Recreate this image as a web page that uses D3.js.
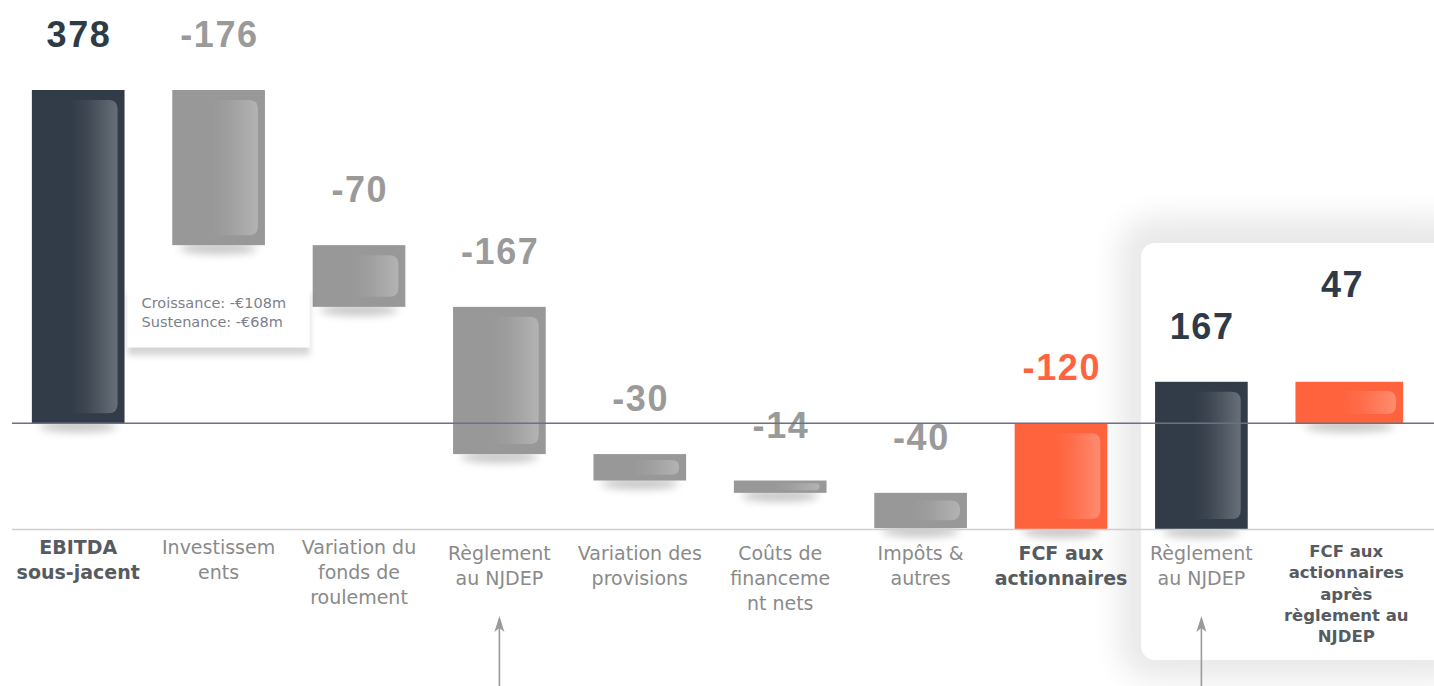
<!DOCTYPE html>
<html>
<head>
<meta charset="utf-8">
<script src="https://cdn.jsdelivr.net/npm/d3@7/dist/d3.min.js"></script>
<style>
	html, body { margin: 0; padding: 0; background: #fff; overflow: hidden; }
	svg { display: block; }
</style>
</head>
<body>
<svg id="chart" width="1434" height="686"></svg>
<script>
'use strict';

// categories (one entry per column, already split into the lines shown)
var categories = [
	['EBITDA', 'sous-jacent'],
	['Investissem', 'ents'],
	['Variation du', 'fonds de', 'roulement'],
	['Règlement', 'au NJDEP'],
	['Variation des', 'provisions'],
	['Coûts de', 'financeme', 'nt nets'],
	['Impôts &', 'autres'],
	['FCF aux', 'actionnaires'],
	['Règlement', 'au NJDEP'],
	['FCF aux', 'actionnaires', 'après', 'règlement au', 'NJDEP']
];
// amounts in €m; "total" columns start from zero, "delta" columns float
var values = [378, -176, -70, -167, -30, -14, -40, -120, 167, 47];
var kinds = ['total', 'delta', 'delta', 'delta', 'delta', 'delta', 'delta', 'total', 'delta', 'total'];
var groups = ['base', 'flow', 'flow', 'flow', 'flow', 'flow', 'flow', 'result', 'base', 'result'];
var labels = ['378', '-176', '-70', '-167', '-30', '-14', '-40', '-120', '167', '47'];
var annotationLines = ['Croissance: -€108m', 'Sustenance: -€68m'];
var arrowUnder = [3, 8];

(function() {
	var W = 1434, H = 686;
	var last = categories.length - 1;
	var colors = {base: '#323c48', flow: '#989898', result: '#ff633d'};
	var labelColors = {base: '#2f3a47', flow: '#9a9a9a', result: '#ff6340'};
	var catFont = '"DejaVu Sans", Verdana, sans-serif';

	// running sums for the waterfall
	var rows = [];
	var run = 0;
	values.forEach(function(v, i) {
		var start = kinds[i] === 'total' ? 0 : run;
		var end = start + v;
		run = end;
		rows.push({i: i, start: start, end: end, group: groups[i], lines: categories[i], label: labels[i], bold: kinds[i] === 'total'});
	});

	var x = d3.scaleBand()
		.domain(d3.range(categories.length))
		.range([8, 1412])
		.paddingInner(0.34)
		.paddingOuter(0.17)
		;
	var y = d3.scaleLinear()
		.domain([d3.min(rows, function(d) { return Math.min(d.start, d.end); }), d3.max(rows, function(d) { return Math.max(d.start, d.end); })])
		.range([529, 90])
		;

	var svg = d3.select('#chart');
	var defs = svg.append('defs');

	defs.append('filter')
		.attr('id', 'blur')
		.attr('x', '-50%').attr('y', '-200%').attr('width', '200%').attr('height', '500%')
		.append('feGaussianBlur')
			.attr('stdDeviation', 4)
		;
	defs.append('filter')
		.attr('id', 'halo')
		.attr('x', '-30%').attr('y', '-30%').attr('width', '160%').attr('height', '160%')
		.append('feGaussianBlur')
			.attr('stdDeviation', 14)
		;
	defs.append('filter')
		.attr('id', 'boxshadow')
		.attr('x', '-20%').attr('y', '-20%').attr('width', '140%').attr('height', '160%')
		.append('feDropShadow')
			.attr('dx', 0).attr('dy', 8)
			.attr('stdDeviation', 3)
			.attr('flood-color', '#000')
			.attr('flood-opacity', 0.17)
		;
	var shine = defs.append('linearGradient')
		.attr('id', 'shine')
		.attr('x1', 0).attr('x2', 1).attr('y1', 0).attr('y2', 0)
		;
	shine.append('stop').attr('offset', '0%').attr('stop-color', '#fff').attr('stop-opacity', 0);
	shine.append('stop').attr('offset', '35%').attr('stop-color', '#fff').attr('stop-opacity', 0.06);
	shine.append('stop').attr('offset', '100%').attr('stop-color', '#fff').attr('stop-opacity', 0.26);

	// highlighted panel on the right: soft grey halo, then the white card
	var px = x(8) - 14;
	svg.append('rect')
		.attr('x', px - 22)
		.attr('y', 243 - 26)
		.attr('width', W - px + 60)
		.attr('height', 417 + 46)
		.attr('rx', 36)
		.attr('fill', '#e9e9e9')
		.attr('filter', 'url(#halo)')
		;
	svg.append('rect')
		.attr('x', px)
		.attr('y', 243)
		.attr('width', W - px + 20)
		.attr('height', 417)
		.attr('rx', 14)
		.attr('fill', '#fff')
		;

	var barW = function(d) { return x.bandwidth() + (d.i === last ? 15 : 0); };
	var barTop = function(d) { return y(Math.max(d.start, d.end)); };
	var barBot = function(d) { return y(Math.min(d.start, d.end)); };

	// bar shadows
	svg.append('g').selectAll('ellipse')
		.data(rows)
		.enter()
		.append('ellipse')
			.attr('cx', function(d) { return x(d.i) + barW(d) / 2; })
			.attr('cy', function(d) { return barBot(d) + 3; })
			.attr('rx', function(d) { return barW(d) * 0.42; })
			.attr('ry', 6)
			.attr('fill', '#000')
			.attr('opacity', 0.22)
			.attr('filter', 'url(#blur)')
		;

	// bars
	var bars = svg.append('g').selectAll('g.bar')
		.data(rows)
		.enter()
		.append('g')
			.classed('bar', true)
		;
	bars.append('rect')
		.attr('x', function(d) { return x(d.i); })
		.attr('y', barTop)
		.attr('width', barW)
		.attr('height', function(d) { return barBot(d) - barTop(d); })
		.attr('fill', function(d) { return colors[d.group]; })
		;
	bars.append('path')
		.attr('d', function(d) {
			var w = barW(d), h = barBot(d) - barTop(d);
			var inset = Math.min(10, h * 0.22);
			var x0 = x(d.i) + w * 0.42, x1 = x(d.i) + w - 7;
			var y0 = barTop(d) + inset, y1 = barBot(d) - inset;
			var r = Math.min(9, (y1 - y0) / 2);
			return 'M' + x0 + ',' + y0 +
				'H' + (x1 - r) +
				'Q' + x1 + ',' + y0 + ' ' + x1 + ',' + (y0 + r) +
				'V' + (y1 - r) +
				'Q' + x1 + ',' + y1 + ' ' + (x1 - r) + ',' + y1 +
				'H' + x0 + 'Z';
		})
		.attr('fill', 'url(#shine)')
		;

	// value labels
	svg.append('g').selectAll('text')
		.data(rows)
		.enter()
		.append('text')
			.attr('x', function(d) { return x(d.i) + x.bandwidth() / 2 + 0.8; })
			.attr('y', function(d) { return barTop(d) - (d.i === last ? 85 : 43); })
			.attr('text-anchor', 'middle')
			.attr('font-family', '"Liberation Sans", Arial, sans-serif')
			.attr('font-weight', 'bold')
			.attr('font-size', 36)
			.attr('letter-spacing', 1.6)
			.attr('fill', function(d) { return d.i === last ? labelColors.base : labelColors[d.group]; })
			.text(function(d) { return d.label; })
		;

	// base line and zero line
	svg.append('line')
		.attr('x1', 12).attr('x2', W)
		.attr('y1', y(y.domain()[0]) + 0.5).attr('y2', y(y.domain()[0]) + 0.5)
		.attr('stroke', '#cfcfd2')
		.attr('stroke-width', 1.5)
		;
	svg.append('line')
		.attr('x1', 12).attr('x2', W)
		.attr('y1', y(0)).attr('y2', y(0))
		.attr('stroke', '#6c7182')
		.attr('stroke-width', 1.6)
		;

	// category labels
	var cats = svg.append('g').selectAll('text')
		.data(rows)
		.enter()
		.append('text')
			.attr('text-anchor', 'middle')
			.attr('font-family', catFont)
			.attr('font-weight', function(d) { return d.bold ? 'bold' : 'normal'; })
			.attr('font-size', function(d) { return d.lines.length > 3 ? 16.5 : 19; })
			.attr('fill', function(d) { return d.bold ? '#565b62' : '#8a8a8a'; })
		;
	cats.each(function(d) {
		var small = d.lines.length > 3;
		var lh = small ? 21.3 : 25.3;
		var first = small ? 557 : (d.i < 3 ? 553.5 : 559.5);
		var cx = x(d.i) + barW(d) / 2 - (small ? 3 : 0);
		d3.select(this).selectAll('tspan')
			.data(d.lines)
			.enter()
			.append('tspan')
				.attr('x', cx)
				.attr('y', function(l, k) { return first + k * lh; })
				.text(function(l) { return l; })
			;
	});

	// annotation box for the investment split
	var bx = x(1) + x.bandwidth() / 2 - 91;
	var by = barBot(rows[1]) + 40;
	svg.append('rect')
		.attr('x', bx)
		.attr('y', by)
		.attr('width', 182)
		.attr('height', 62)
		.attr('fill', '#fff')
		.attr('filter', 'url(#boxshadow)')
		;
	svg.append('g').selectAll('text')
		.data(annotationLines)
		.enter()
		.append('text')
			.attr('x', bx + 14)
			.attr('y', function(l, k) { return by + 23 + k * 19; })
			.attr('font-family', catFont)
			.attr('font-size', 14.5)
			.attr('fill', '#7c808c')
			.text(function(l) { return l; })
		;

	// arrows under the NJDEP settlement columns
	var arrows = svg.append('g').selectAll('g')
		.data(arrowUnder)
		.enter()
		.append('g')
		;
	arrows.append('line')
		.attr('x1', function(i) { return x(i) + x.bandwidth() / 2; })
		.attr('x2', function(i) { return x(i) + x.bandwidth() / 2; })
		.attr('y1', H)
		.attr('y2', 624)
		.attr('stroke', '#9a9a9a')
		.attr('stroke-width', 1.6)
		;
	arrows.append('path')
		.attr('d', function(i) {
			var cx = x(i) + x.bandwidth() / 2;
			return 'M' + cx + ',616 L' + (cx - 5) + ',632 L' + cx + ',628 L' + (cx + 5) + ',632 Z';
		})
		.attr('fill', '#9a9a9a')
		;
})();
</script>
</body>
</html>
